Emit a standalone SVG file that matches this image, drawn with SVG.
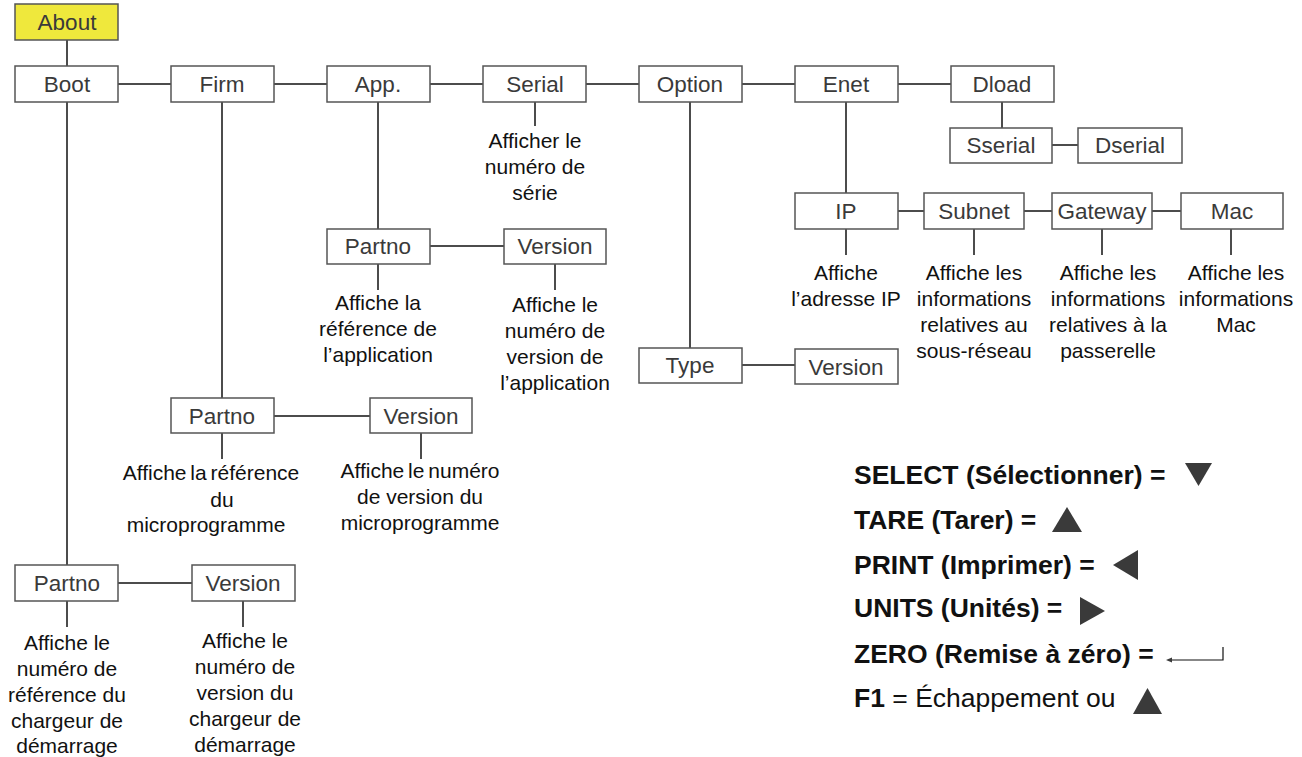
<svg xmlns="http://www.w3.org/2000/svg" width="1302" height="757" viewBox="0 0 1302 757">
<style>
.box{fill:#fff;stroke:#555;stroke-width:1.5}
.lbl{font-family:"Liberation Sans",Arial,sans-serif;font-size:22.5px;fill:#3a3a3a;text-anchor:middle}
.d{font-family:"Liberation Sans",Arial,sans-serif;font-size:21px;fill:#111;text-anchor:middle}
.k{font-family:"Liberation Sans",Arial,sans-serif;font-size:26.5px;fill:#111}
.b{font-weight:bold}
.ln{stroke:#111;stroke-width:1.5;fill:none}
.tri{fill:#3a3a3a}
</style>
<rect width="1302" height="757" fill="#fff"/>
<g id="connectors" class="ln">
<line x1="67" y1="40" x2="67" y2="66"/>
<line x1="118" y1="84" x2="171" y2="84"/>
<line x1="274" y1="84" x2="327" y2="84"/>
<line x1="430" y1="84" x2="483" y2="84"/>
<line x1="586" y1="84" x2="639" y2="84"/>
<line x1="742" y1="84" x2="795" y2="84"/>
<line x1="898" y1="84" x2="951" y2="84"/>
<line x1="535" y1="102" x2="535" y2="126"/>
<line x1="378" y1="102" x2="378" y2="229"/>
<line x1="430" y1="246" x2="504" y2="246"/>
<line x1="378" y1="264" x2="378" y2="290"/>
<line x1="555" y1="264" x2="555" y2="290"/>
<line x1="690" y1="102" x2="690" y2="348"/>
<line x1="742" y1="365" x2="795" y2="365"/>
<line x1="846" y1="102" x2="846" y2="193"/>
<line x1="1002" y1="102" x2="1002" y2="128"/>
<line x1="1052" y1="145" x2="1078" y2="145"/>
<line x1="898" y1="211" x2="924" y2="211"/>
<line x1="1024" y1="211" x2="1052" y2="211"/>
<line x1="1152" y1="211" x2="1181" y2="211"/>
<line x1="846" y1="229" x2="846" y2="255"/>
<line x1="974" y1="229" x2="974" y2="255"/>
<line x1="1102" y1="229" x2="1102" y2="255"/>
<line x1="1231" y1="229" x2="1231" y2="255"/>
<line x1="222" y1="102" x2="222" y2="398"/>
<line x1="274" y1="416" x2="370" y2="416"/>
<line x1="222" y1="433" x2="222" y2="459"/>
<line x1="421" y1="433" x2="421" y2="459"/>
<line x1="67" y1="102" x2="67" y2="565"/>
<line x1="118" y1="583" x2="192" y2="583"/>
<line x1="67" y1="601" x2="67" y2="627"/>
<line x1="243" y1="601" x2="243" y2="627"/>
</g>
<g id="about"><rect x="15" y="4" width="103" height="36" fill="#efe83c" stroke="#555" stroke-width="1.5"/><text class="lbl" x="67" y="30">About</text></g>
<g id="boot"><rect class="box" x="15" y="66" width="103" height="36"/><text class="lbl" x="67" y="92">Boot</text></g>
<g id="firm"><rect class="box" x="171" y="66" width="103" height="36"/><text class="lbl" x="222" y="92">Firm</text></g>
<g id="app"><rect class="box" x="327" y="66" width="103" height="36"/><text class="lbl" x="378" y="92">App.</text></g>
<g id="serial"><rect class="box" x="483" y="66" width="103" height="36"/><text class="lbl" x="535" y="92">Serial</text></g>
<g id="option"><rect class="box" x="639" y="66" width="103" height="36"/><text class="lbl" x="690" y="92">Option</text></g>
<g id="enet"><rect class="box" x="795" y="66" width="103" height="36"/><text class="lbl" x="846" y="92">Enet</text></g>
<g id="dload"><rect class="box" x="951" y="66" width="103" height="36"/><text class="lbl" x="1002" y="92">Dload</text></g>
<g id="sserial"><rect class="box" x="950" y="128" width="102" height="35"/><text class="lbl" x="1001" y="153">Sserial</text></g>
<g id="dserial"><rect class="box" x="1078" y="128" width="104" height="35"/><text class="lbl" x="1130" y="153">Dserial</text></g>
<g id="serial-desc"><text class="d" x="535" y="148">Afficher le</text><text class="d" x="535" y="174">numéro de</text><text class="d" x="535" y="200">série</text></g>
<g id="ip"><rect class="box" x="795" y="193" width="103" height="36"/><text class="lbl" x="846" y="219">IP</text></g>
<g id="subnet"><rect class="box" x="924" y="193" width="100" height="36"/><text class="lbl" x="974" y="219">Subnet</text></g>
<g id="gateway"><rect class="box" x="1052" y="193" width="100" height="36"/><text class="lbl" x="1102" y="219">Gateway</text></g>
<g id="mac"><rect class="box" x="1181" y="193" width="102" height="36"/><text class="lbl" x="1232" y="219">Mac</text></g>
<g id="ip-desc"><text class="d" x="846" y="280">Affiche</text><text class="d" x="846" y="306">l’adresse IP</text></g>
<g id="subnet-desc"><text class="d" x="974" y="280">Affiche les</text><text class="d" x="974" y="306">informations</text><text class="d" x="974" y="332">relatives au</text><text class="d" x="974" y="358">sous-réseau</text></g>
<g id="gateway-desc"><text class="d" x="1108" y="280">Affiche les</text><text class="d" x="1108" y="306">informations</text><text class="d" x="1108" y="332">relatives à la</text><text class="d" x="1108" y="358">passerelle</text></g>
<g id="mac-desc"><text class="d" x="1236" y="280">Affiche les</text><text class="d" x="1236" y="306">informations</text><text class="d" x="1236" y="332">Mac</text></g>
<g id="app-partno"><rect class="box" x="327" y="229" width="103" height="35"/><text class="lbl" x="378" y="254">Partno</text></g>
<g id="app-version"><rect class="box" x="504" y="229" width="102" height="35"/><text class="lbl" x="555" y="254">Version</text></g>
<g id="app-partno-desc"><text class="d" x="378" y="310">Affiche la</text><text class="d" x="378" y="336">référence de</text><text class="d" x="378" y="362">l’application</text></g>
<g id="app-version-desc"><text class="d" x="555" y="312">Affiche le</text><text class="d" x="555" y="338">numéro de</text><text class="d" x="555" y="364">version de</text><text class="d" x="555" y="390">l’application</text></g>
<g id="type"><rect class="box" x="639" y="348" width="103" height="35"/><text class="lbl" x="690" y="373">Type</text></g>
<g id="opt-version"><rect class="box" x="795" y="349" width="103" height="35"/><text class="lbl" x="846" y="375">Version</text></g>
<g id="firm-partno"><rect class="box" x="171" y="398" width="103" height="35"/><text class="lbl" x="222" y="424">Partno</text></g>
<g id="firm-version"><rect class="box" x="370" y="398" width="102" height="35"/><text class="lbl" x="421" y="424">Version</text></g>
<g id="firm-partno-desc"><text class="d" x="211" y="480" word-spacing="-2">Affiche la référence</text><text class="d" x="222" y="507">du</text><text class="d" x="206" y="532">microprogramme</text></g>
<g id="firm-version-desc"><text class="d" x="420" y="478" word-spacing="-2">Affiche le numéro</text><text class="d" x="420" y="504">de version du</text><text class="d" x="420" y="530">microprogramme</text></g>
<g id="boot-partno"><rect class="box" x="15" y="565" width="103" height="36"/><text class="lbl" x="67" y="591">Partno</text></g>
<g id="boot-version"><rect class="box" x="192" y="565" width="103" height="36"/><text class="lbl" x="243" y="591">Version</text></g>
<g id="boot-partno-desc"><text class="d" x="67" y="650">Affiche le</text><text class="d" x="67" y="676">numéro de</text><text class="d" x="67" y="702">référence du</text><text class="d" x="67" y="728">chargeur de</text><text class="d" x="67" y="753">démarrage</text></g>
<g id="boot-version-desc"><text class="d" x="245" y="648">Affiche le</text><text class="d" x="245" y="674">numéro de</text><text class="d" x="245" y="700">version du</text><text class="d" x="245" y="726">chargeur de</text><text class="d" x="245" y="752">démarrage</text></g>
<g id="legend">
<text class="k b" x="854" y="484">SELECT (Sélectionner) =</text>
<polygon class="tri" points="1185,463 1212,463 1198.5,486"/>
<text class="k b" x="854" y="529">TARE (Tarer) =</text>
<polygon class="tri" points="1052,532 1082,532 1067,507"/>
<text class="k b" x="854" y="574">PRINT (Imprimer) =</text>
<polygon class="tri" points="1138,550 1138,580 1113,565"/>
<text class="k b" x="854" y="617">UNITS (Unités) =</text>
<polygon class="tri" points="1080,597 1080,625 1105,611"/>
<text class="k b" x="854" y="663">ZERO (Remise à zéro) =</text>
<polyline class="ln" points="1223,647 1223,660 1170,660" style="stroke-width:1.2"/>
<polygon class="tri" points="1166,660 1172,657.5 1172,662.5"/>
<text class="k" x="854" y="707"><tspan class="b">F1</tspan> = Échappement ou</text>
<polygon class="tri" points="1133,714 1162,714 1147.5,688"/>
</g>
</svg>
